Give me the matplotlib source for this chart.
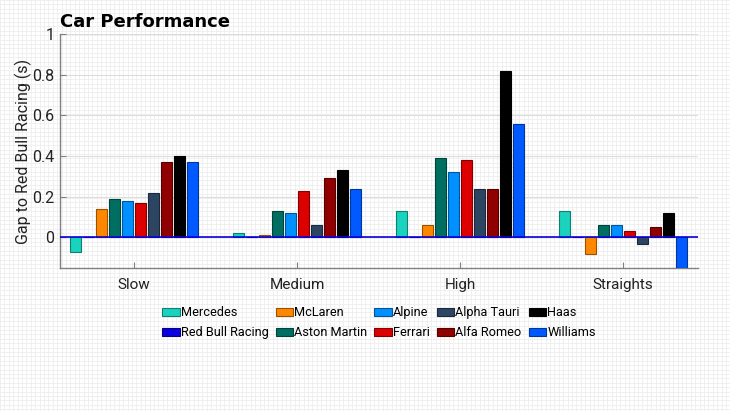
import numpy as np
import matplotlib.pyplot as plt
from matplotlib.colors import to_rgb

plt.rcParams['font.family'] = ['Roboto', 'DejaVu Sans']

categories = ['Slow', 'Medium', 'High', 'Straights']
teams = ['Mercedes', 'Red Bull Racing', 'McLaren', 'Aston Martin', 'Alpine',
         'Ferrari', 'Alpha Tauri', 'Alfa Romeo', 'Haas', 'Williams']
colors = ['#1AD3BE', '#0A00DD', '#FF8700', '#006F62', '#0090FF',
          '#DC0000', '#2B4562', '#900000', '#000000', '#005AFF']

# gap (s) per team, one value per category
mercedes = [-0.07, 0.02, 0.13, 0.13]
red_bull = [0.0, 0.0, 0.0, 0.0]
mclaren = [0.14, 0.01, 0.06, -0.08]
aston_martin = [0.19, 0.13, 0.39, 0.06]
alpine = [0.18, 0.12, 0.32, 0.06]
ferrari = [0.17, 0.23, 0.38, 0.03]
alpha_tauri = [0.22, 0.06, 0.24, -0.03]
alfa_romeo = [0.37, 0.29, 0.24, 0.05]
haas = [0.40, 0.33, 0.82, 0.12]
williams = [0.37, 0.24, 0.56, -0.15]
gaps = [mercedes, red_bull, mclaren, aston_martin, alpine,
        ferrari, alpha_tauri, alfa_romeo, haas, williams]

fig = plt.figure(figsize=(7.3, 4.11), dpi=100)

# graph-paper background
bg = fig.add_axes([0, 0, 1, 1], zorder=-5)
bg.set_xlim(0, 730)
bg.set_ylim(411, 0)
for v in np.arange(0, 731, 4.4):
    bg.axvline(v, color='#eeeeee', lw=0.6)
for h in np.arange(0, 412, 4.4):
    bg.axhline(h, color='#eeeeee', lw=0.6)
bg.axis('off')

ax = fig.add_axes([0.0822, 0.348, 0.874, 0.569])
ax.set_facecolor('none')

x = np.arange(1, len(categories) + 1)
n = len(teams)
step = 0.08
for i, (team, vals, c) in enumerate(zip(teams, gaps, colors)):
    edge = tuple(np.array(to_rgb(c)) * 0.6)
    ax.bar(x + (i - (n - 1) / 2) * step, vals, width=0.066, color=c,
           edgecolor=edge, linewidth=0.8, label=team, zorder=3)

ax.axhline(0, color='#0A00DD', lw=1.2, zorder=4)

ax.set_xlim(0.545, 4.46)
ax.set_ylim(-0.15, 1)
ax.set_xticks(x)
ax.set_xticklabels(categories)
ax.set_yticks([0, 0.2, 0.4, 0.6, 0.8, 1])
ax.set_yticklabels(['0', '0.2', '0.4', '0.6', '0.8', '1'])
ax.tick_params(direction='in', length=4, color='#808080',
               labelcolor='#222222')
ax.tick_params(axis='y', labelsize=11.5, pad=4)
ax.tick_params(axis='x', labelsize=11, pad=7)
ax.grid(axis='y', color='#dcdcdc', lw=0.8, zorder=0)
for s in ['top', 'right']:
    ax.spines[s].set_visible(False)
for s in ['left', 'bottom']:
    ax.spines[s].set_color('#808080')
    ax.spines[s].set_linewidth(1.0)

ax.set_ylabel('Gap to Red Bull Racing (s)', fontsize=11.5, color='#222222', labelpad=0)
ax.set_title('Car Performance', loc='left', fontsize=13, fontweight='bold',
             family='DejaVu Sans', pad=5)

ax.legend(loc='upper center', bbox_to_anchor=(0.5, -0.115), ncol=5,
          frameon=False, fontsize=9.2, handlelength=1.35, handleheight=0.65,
          handletextpad=0.1, columnspacing=0.55, labelspacing=0.55)

fig.savefig('out.png', dpi=100)
